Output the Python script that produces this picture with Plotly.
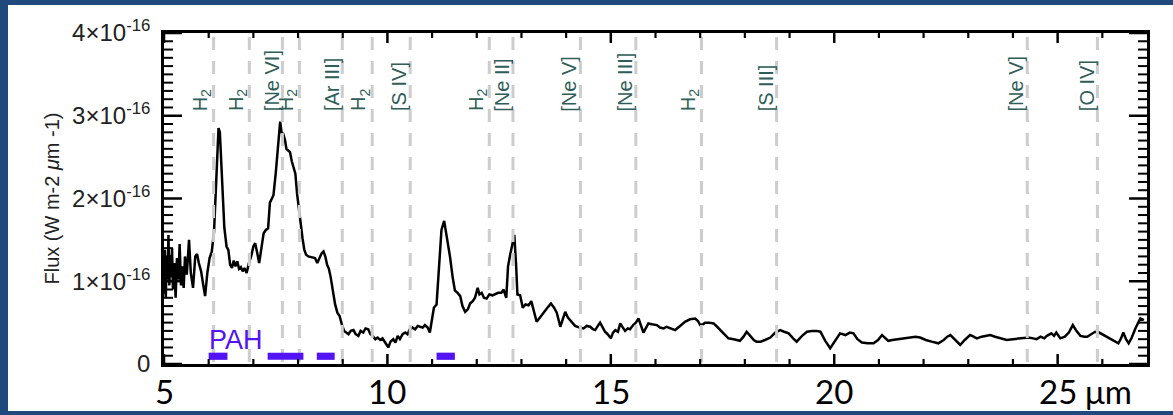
import plotly.graph_objects as go

# ---- data ----
wavelength = [5.00, 5.02, 5.04, 5.06, 5.08, 5.10, 5.12, 5.14, 5.16, 5.18, 5.20, 5.23, 5.26, 5.29, 5.32,
              5.35, 5.38, 5.41, 5.44, 5.47, 5.51, 5.56, 5.60, 5.65, 5.70, 5.74, 5.78, 5.83, 5.88, 5.92,
              5.97, 6.02, 6.07, 6.12, 6.16, 6.20, 6.22, 6.25, 6.28, 6.31, 6.35, 6.40, 6.44, 6.48, 6.52,
              6.56, 6.60, 6.64, 6.68, 6.72, 6.76, 6.80, 6.85, 6.90, 6.95, 7.00, 7.04, 7.08, 7.13, 7.18,
              7.23, 7.28, 7.33, 7.37, 7.41, 7.45, 7.50, 7.55, 7.60, 7.63, 7.67, 7.71, 7.74, 7.78, 7.82,
              7.86, 7.90, 7.94, 7.98, 8.02, 8.06, 8.10, 8.14, 8.18, 8.23, 8.30, 8.38, 8.43, 8.48, 8.53,
              8.57, 8.61, 8.65, 8.69, 8.73, 8.78, 8.83, 8.88, 8.93, 8.98, 9.03, 9.08, 9.13, 9.18, 9.24,
              9.29, 9.35, 9.40, 9.46, 9.51, 9.57, 9.62, 9.67, 9.73, 9.78, 9.84, 9.89, 9.95, 10.02, 10.07,
              10.13, 10.18, 10.23, 10.28, 10.34, 10.40, 10.45, 10.50, 10.56, 10.62, 10.68, 10.73, 10.79, 10.84, 10.90,
              10.95, 11.00, 11.04, 11.10, 11.15, 11.21, 11.27, 11.33, 11.40, 11.46, 11.51, 11.57, 11.63, 11.68, 11.74,
              11.80, 11.85, 11.91, 11.96, 12.02, 12.06, 12.11, 12.16, 12.22, 12.28, 12.35, 12.42, 12.48, 12.55, 12.60,
              12.66, 12.70, 12.74, 12.78, 12.84, 12.88, 12.91, 12.97, 13.03, 13.09, 13.16, 13.22, 13.28, 13.34, 13.41,
              13.49, 13.58, 13.66, 13.73, 13.79, 13.84, 13.87, 13.93, 13.98, 14.04, 14.09, 14.15, 14.20, 14.30, 14.39,
              14.46, 14.54, 14.60, 14.65, 14.71, 14.76, 14.82, 14.87, 14.93, 15.00, 15.05, 15.10, 15.16, 15.21, 15.27,
              15.32, 15.38, 15.43, 15.50, 15.56, 15.62, 15.68, 15.73, 15.79, 15.84, 15.92, 16.03, 16.10, 16.18, 16.25,
              16.33, 16.44, 16.55, 16.66, 16.77, 16.89, 16.95, 17.00, 17.06, 17.11, 17.20, 17.30, 17.38, 17.45, 17.55,
              17.63, 17.75, 17.89, 17.97, 18.04, 18.12, 18.20, 18.26, 18.35, 18.45, 18.57, 18.68, 18.79, 18.88, 18.98,
              19.08, 19.16, 19.28, 19.39, 19.50, 19.60, 19.69, 19.80, 19.91, 20.02, 20.13, 20.25, 20.35, 20.43, 20.52,
              20.62, 20.75, 20.88, 20.98, 21.07, 21.14, 21.21, 21.30, 21.42, 21.55, 21.70, 21.82, 21.92, 22.05, 22.18,
              22.33, 22.45, 22.53, 22.60, 22.70, 22.82, 22.92, 23.04, 23.12, 23.19, 23.30, 23.40, 23.49, 23.60, 23.72,
              23.86, 24.00, 24.12, 24.24, 24.35, 24.45, 24.53, 24.62, 24.70, 24.76, 24.86, 24.92, 24.97, 25.06, 25.16,
              25.25, 25.34, 25.42, 25.51, 25.60, 25.66, 25.75, 25.84, 25.93, 26.03, 26.14, 26.25, 26.36, 26.42, 26.47,
              26.53, 26.59, 26.66, 26.74, 26.85, 26.93]

flux_e16 = [0.85, 1.38, 0.80, 1.30, 1.02, 1.56, 0.95, 1.32, 1.05, 1.40, 0.90, 1.22, 0.80, 1.28, 1.02,
            1.45, 0.95, 1.18, 0.92, 1.30, 1.08, 1.50, 1.10, 0.92, 1.30, 1.33, 1.22, 1.12, 0.95, 0.82,
            1.10, 1.28, 1.36, 1.60, 2.10, 2.75, 2.85, 2.80, 2.40, 2.05, 1.65, 1.42, 1.38, 1.20, 1.16,
            1.25, 1.18, 1.24, 1.15, 1.17, 1.12, 1.16, 1.10, 1.22, 1.30, 1.42, 1.46, 1.36, 1.22, 1.40,
            1.58, 1.62, 1.64, 1.95, 2.00, 2.04, 2.30, 2.65, 2.93, 2.80, 2.78, 2.70, 2.60, 2.58, 2.56,
            2.45, 2.36, 2.30, 2.05, 1.85, 1.70, 1.52, 1.38, 1.32, 1.30, 1.29, 1.28, 1.22, 1.28, 1.34,
            1.36, 1.30, 1.20, 1.15, 1.05, 0.88, 0.72, 0.62, 0.58, 0.48, 0.40, 0.38, 0.36, 0.40, 0.41,
            0.36, 0.34, 0.40, 0.38, 0.43, 0.42, 0.36, 0.34, 0.30, 0.32, 0.29, 0.31, 0.26, 0.20, 0.27,
            0.30, 0.26, 0.34, 0.30, 0.36, 0.38, 0.36, 0.42, 0.44, 0.42, 0.46, 0.45, 0.44, 0.47, 0.44,
            0.38, 0.56, 0.68, 0.72, 1.20, 1.62, 1.73, 1.55, 1.30, 1.05, 0.89, 0.86, 0.82, 0.70, 0.63,
            0.66, 0.73, 0.76, 0.80, 0.92, 0.84, 0.86, 0.80, 0.79, 0.84, 0.83, 0.85, 0.86, 0.86, 0.90,
            0.80, 1.18, 1.30, 1.42, 1.56, 1.20, 0.84, 0.83, 0.68, 0.72, 0.71, 0.76, 0.64, 0.51, 0.56,
            0.61, 0.68, 0.73, 0.68, 0.62, 0.50, 0.45, 0.55, 0.63, 0.56, 0.53, 0.50, 0.46, 0.44, 0.43,
            0.46, 0.45, 0.42, 0.41, 0.46, 0.50, 0.44, 0.39, 0.36, 0.31, 0.38, 0.41, 0.39, 0.49, 0.44,
            0.40, 0.43, 0.42, 0.47, 0.50, 0.55, 0.45, 0.38, 0.44, 0.49, 0.48, 0.47, 0.44, 0.43, 0.45,
            0.43, 0.41, 0.46, 0.51, 0.54, 0.55, 0.52, 0.47, 0.48, 0.50, 0.50, 0.49, 0.45, 0.41, 0.35,
            0.31, 0.30, 0.28, 0.33, 0.39, 0.34, 0.29, 0.27, 0.27, 0.29, 0.32, 0.38, 0.41, 0.39, 0.37,
            0.31, 0.27, 0.34, 0.39, 0.40, 0.40, 0.39, 0.28, 0.19, 0.28, 0.37, 0.35, 0.38, 0.37, 0.30,
            0.26, 0.25, 0.25, 0.29, 0.35, 0.31, 0.28, 0.29, 0.30, 0.31, 0.32, 0.33, 0.32, 0.29, 0.27,
            0.25, 0.29, 0.33, 0.35, 0.30, 0.23, 0.29, 0.35, 0.33, 0.31, 0.33, 0.34, 0.35, 0.33, 0.31,
            0.29, 0.30, 0.31, 0.32, 0.32, 0.31, 0.30, 0.33, 0.31, 0.34, 0.37, 0.34, 0.38, 0.31, 0.33,
            0.38, 0.47, 0.40, 0.34, 0.33, 0.33, 0.36, 0.39, 0.38, 0.35, 0.32, 0.29, 0.25, 0.31, 0.38,
            0.30, 0.25, 0.32, 0.43, 0.55, 0.53]

line_wl = [6.11, 6.91, 7.65, 8.03, 8.99, 9.66, 10.51, 12.28, 12.81, 14.32, 15.56, 17.03, 18.71, 24.32, 25.89]
line_names = ["H<sub>2</sub>", "H<sub>2</sub>", "[Ne VI]", "H<sub>2</sub>", "[Ar III]", "H<sub>2</sub>",
              "[S IV]", "H<sub>2</sub>", "[Ne II]", "[Ne V]", "[Ne III]", "H<sub>2</sub>", "[S III]",
              "[Ne V]", "[O IV]"]

pah_start = [6.00, 7.32, 8.42, 11.10]
pah_end = [6.42, 8.12, 8.82, 11.51]

x_ticks = [5, 10, 15, 20, 25]
x_ticktext = ["5", "10", "15", "20", "25"]
y_ticks_e16 = [0, 1, 2, 3, 4]
y_ticktext = ["0", "1×10<sup>-16</sup>", "2×10<sup>-16</sup>", "3×10<sup>-16</sup>", "4×10<sup>-16</sup>"]

# ---- figure ----
W, H = 1173, 415
L, R, T, B = 164, 26, 33, 51
pw, ph = W - L - R, H - T - B

flux = [v * 1e-16 for v in flux_e16]
y_major = [v * 1e-16 for v in y_ticks_e16]
x_minor = [v for v in range(6, 27) if v not in x_ticks]
y_minor = [k * 1e-17 for k in range(1, 40) if k % 10 != 0]

fig = go.Figure()
fig.add_trace(go.Scatter(x=wavelength, y=flux, mode="lines",
                         line=dict(color="black", width=2.5), hoverinfo="skip"))

shapes = []
# white slide area inside the blue frame
shapes.append(dict(type="rect", xref="paper", yref="paper",
                   x0=(8 - L) / pw, x1=(W + 5 - L) / pw,
                   y0=(H - B - 411) / ph, y1=(H - B - 5) / ph,
                   fillcolor="white", line=dict(width=0), layer="below"))
for w in line_wl:
    shapes.append(dict(type="line", xref="x", yref="paper", x0=w, x1=w, y0=0.006, y1=0.994,
                       line=dict(color="#CDCDCD", width=3, dash="13px,11px"), layer="above"))
for s, e in zip(pah_start, pah_end):
    shapes.append(dict(type="rect", xref="x", yref="y", x0=s, x1=e, y0=0.05e-16, y1=0.137e-16,
                       fillcolor="#5214F5", line=dict(width=0), layer="above"))


# axis tick marks (inside, mirrored on all four sides)
def xtick(v, ln, wd):
    for a, b in ((0, ln / ph), (1 - ln / ph, 1)):
        shapes.append(dict(type="line", xref="x", yref="paper", x0=v, x1=v, y0=a, y1=b,
                           line=dict(color="black", width=wd), layer="above"))


def ytick(v, ln, wd):
    for a, b in ((0, ln / pw), (1 - ln / pw, 1)):
        shapes.append(dict(type="line", xref="paper", yref="y", x0=a, x1=b, y0=v, y1=v,
                           line=dict(color="black", width=wd), layer="above"))


for v in x_ticks:
    xtick(v, 10, 2.5)
for v in x_minor:
    xtick(v, 5, 2.2)
for v in y_major:
    ytick(v, 18, 2.5)
for v in y_minor:
    ytick(v, 9, 2)

annotations = []
for w, name in zip(line_wl, line_names):
    annotations.append(dict(x=w, y=3.03e-16, xref="x", yref="y", text=name, textangle=-90,
                            xanchor="right", yanchor="bottom", xshift=2, showarrow=False,
                            font=dict(family="Liberation Sans, Arial", size=20, color="#2F5D58")))
annotations.append(dict(x=pah_start[0], y=0.085e-16, xref="x", yref="y", text="PAH",
                        xanchor="left", yanchor="bottom", showarrow=False, xshift=-2,
                        font=dict(family="Liberation Sans, Arial", size=27, color="#5214F5")))
# x tick labels, placed under the axis at the tick values
xlab_y = -(391 - (H - B)) / ph
for v, t in zip(x_ticks, x_ticktext):
    annotations.append(dict(x=v, y=xlab_y, xref="x", yref="paper", text=t,
                            xanchor="center", yanchor="middle", showarrow=False,
                            font=dict(family="Lato", size=33, color="black")))
annotations.append(dict(x=(1083 - L) / pw, y=xlab_y, xref="paper", yref="paper",
                        text="μm", xanchor="left", yanchor="middle", showarrow=False,
                        font=dict(family="Lato", size=33, color="black")))

fig.update_layout(
    template="none",
    width=W, height=H,
    margin=dict(l=L, r=R, t=T, b=B, pad=0, autoexpand=False),
    paper_bgcolor="#1F497D", plot_bgcolor="white",
    showlegend=False,
    shapes=shapes, annotations=annotations,
    xaxis=dict(range=[5, 27], tickmode="array", tickvals=x_ticks, ticktext=x_ticktext,
               automargin=False, ticks="", showticklabels=False,
               showline=True, linecolor="black", linewidth=2.5, mirror=True,
               showgrid=False, zeroline=False),
    yaxis=dict(range=[0, 4e-16], tickmode="array", tickvals=y_major, ticktext=y_ticktext,
               automargin=False, ticks="", ticklabelstandoff=6,
               showline=True, linecolor="black", linewidth=2.5, mirror=True,
               showgrid=False, zeroline=False,
               tickfont=dict(family="Liberation Sans, Arial", size=24, color="#222222"),
               title=dict(text="Flux (W m-2 <i>μ</i>m -1)", standoff=8,
                          font=dict(family="Liberation Sans, Arial", size=20, color="#222222"))),
)

fig.write_html("out.html")
